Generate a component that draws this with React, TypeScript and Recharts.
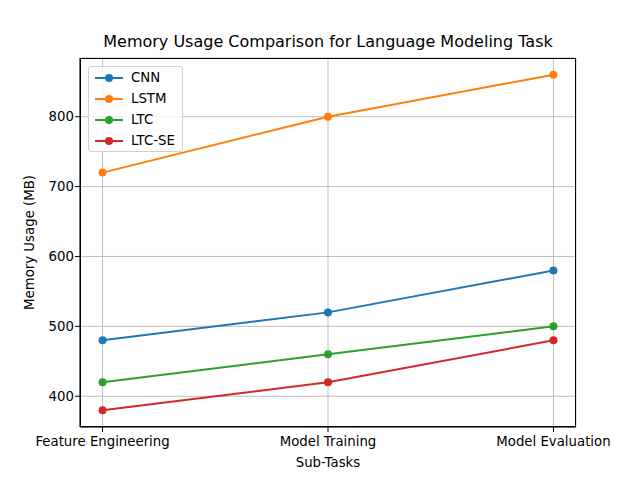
import React from "react"
import { CartesianGrid, Line, LineChart, XAxis, YAxis } from "recharts"

const tasks = ["Feature Engineering", "Model Training", "Model Evaluation"]
const cnn = [480, 520, 580]
const lstm = [720, 800, 860]
const ltc = [420, 460, 500]
const ltcSe = [380, 420, 480]
const yTicks = [400, 500, 600, 700, 800]

const series = [
  { key: "cnn", name: "CNN", color: "#1f77b4" },
  { key: "lstm", name: "LSTM", color: "#ff7f0e" },
  { key: "ltc", name: "LTC", color: "#2ca02c" },
  { key: "ltcSe", name: "LTC-SE", color: "#d62728" },
]

const data = tasks.map((t, i) => ({
  x: i,
  cnn: cnn[i],
  lstm: lstm[i],
  ltc: ltc[i],
  ltcSe: ltcSe[i],
}))

const font = "DejaVu Sans, sans-serif"

// matplotlib-style legend box, upper left
const LegendBox = () => (
  <div
    style={{
      position: "absolute",
      left: 88,
      top: 66,
      height: 86,
      boxSizing: "border-box",
      background: "rgba(255,255,255,0.8)",
      border: "1px solid #d0d0d0",
      borderRadius: 3,
      padding: "0px 0px 0px 6px",
      fontFamily: font,
      fontSize: 13.3,
      color: "#000",
      width: 95,
      whiteSpace: "nowrap",
    }}
  >
    {series.map((s) => (
      <div key={s.key} style={{ display: "flex", alignItems: "center", height: 21 }}>
        <svg width={28} height={12} style={{ marginRight: 8, flexShrink: 0 }}>
          <line x1={0} x2={28} y1={6} y2={6} stroke={s.color} strokeWidth={2} />
          <circle cx={14} cy={6} r={4} fill={s.color} />
        </svg>
        <span>{s.name}</span>
      </div>
    ))}
  </div>
)

export default function App() {
  return (
    <div style={{ position: "absolute", left: 0, top: 0, width: 640, height: 480, background: "#fff" }}>
      <div
        style={{
          position: "absolute",
          top: 32,
          left: 80,
          width: 496,
          textAlign: "center",
          fontFamily: font,
          fontSize: 16,
        }}
      >
        Memory Usage Comparison for Language Modeling Task
      </div>
      <LineChart
        width={640}
        height={480}
        data={data}
        margin={{ top: 58, right: 64, bottom: 0, left: 0 }}
        style={{ fontFamily: font }}
      >
        <CartesianGrid stroke="#b0b0b0" strokeWidth={0.8} />
        <XAxis
          dataKey="x"
          type="number"
          domain={[-0.1, 2.1]}
          ticks={[0, 1, 2]}
          tickFormatter={(v) => tasks[v]}
          height={53}
          tickSize={5}
          stroke="#000"
          tick={{ fill: "#000", fontSize: 13.3, dy: 3 }}
          label={{ value: "Sub-Tasks", position: "insideBottom", offset: 13, fill: "#000", fontSize: 13.3 }}
        />
        <YAxis
          type="number"
          domain={[356, 884]}
          ticks={yTicks}
          width={80}
          tickSize={5}
          stroke="#000"
          tick={{ fill: "#000", fontSize: 13.3, dx: 1 }}
          label={{ value: "Memory Usage (MB)", angle: -90, position: "insideLeft", offset: 29, fill: "#000", fontSize: 13.3, style: { textAnchor: "middle" } }}
        />
        {series.map((s) => (
          <Line
            key={s.key}
            dataKey={s.key}
            name={s.name}
            stroke={s.color}
            strokeWidth={2}
            dot={{ r: 4, fill: s.color, stroke: s.color, strokeWidth: 0 }}
            activeDot={false}
            isAnimationActive={false}
          />
        ))}
      </LineChart>
      {/* axes frame */}
      <div
        style={{
          position: "absolute",
          left: 80,
          top: 58,
          width: 496,
          height: 369,
          boxSizing: "border-box",
          border: "1px solid #000",
          pointerEvents: "none",
        }}
      />
      <LegendBox />
    </div>
  )
}
